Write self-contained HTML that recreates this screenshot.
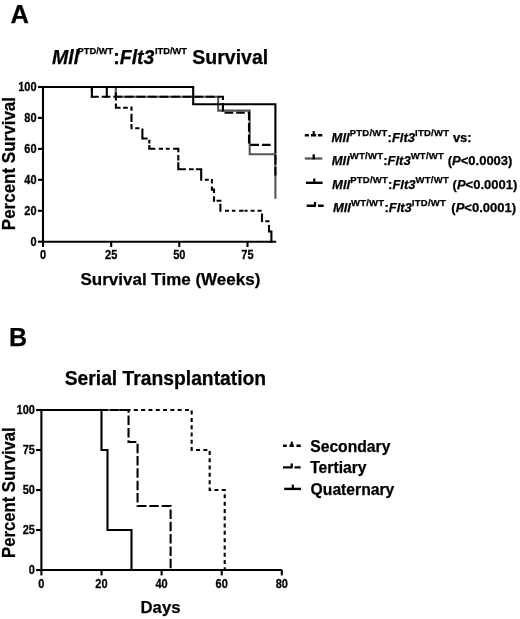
<!DOCTYPE html>
<html><head><meta charset="utf-8"><title>Survival figure</title>
<style>
html,body{margin:0;padding:0;background:#fff;}
body{width:520px;height:619px;overflow:hidden;}
svg{display:block;}
text{font-family:'Liberation Sans', Arial, Helvetica, sans-serif;font-weight:bold;fill:#000;stroke:#000;stroke-width:0.25px;}
.it{font-style:italic;}
</style></head><body>
<svg width="520" height="619" viewBox="0 0 520 619">
<rect width="520" height="619" fill="#fff"/>

<text x="10.4" y="22.8" font-size="25.5">A</text>
<text x="9.0" y="345.7" font-size="25">B</text>
<text x="52" y="64.3" font-size="19.5"><tspan class="it">Mll</tspan><tspan font-size="9.3" dy="-10.3" dx="-1.5">PTD/WT</tspan><tspan dy="10.3">:</tspan><tspan class="it">Flt3</tspan><tspan font-size="9.3" dy="-10.3" dx="0.5">ITD/WT</tspan><tspan dy="10.3"> Survival</tspan></text>
<text transform="translate(15.2,163.6) rotate(-90) scale(0.945,1)" text-anchor="middle" font-size="18">Percent Survival</text>
<g stroke="#000" stroke-width="2.1" fill="none" stroke-linecap="butt">
<path d="M43.0,86.5 V242.7"/>
<path d="M42.0,241.7 H276.2"/>
<path d="M38,241.7 H43.0"/>
<path d="M38,210.8 H43.0"/>
<path d="M38,179.8 H43.0"/>
<path d="M38,148.9 H43.0"/>
<path d="M38,117.9 H43.0"/>
<path d="M38,87.0 H43.0"/>
<path d="M43.0,241.7 V247"/>
<path d="M111.2,241.7 V247"/>
<path d="M179.3,241.7 V247"/>
<path d="M247.5,241.7 V247"/>
</g>
<text transform="translate(36.6,246.0) scale(0.92,1)" font-size="12" text-anchor="end">0</text>
<text transform="translate(36.6,215.1) scale(0.92,1)" font-size="12" text-anchor="end">20</text>
<text transform="translate(36.6,184.1) scale(0.92,1)" font-size="12" text-anchor="end">40</text>
<text transform="translate(36.6,153.2) scale(0.92,1)" font-size="12" text-anchor="end">60</text>
<text transform="translate(36.6,122.2) scale(0.92,1)" font-size="12" text-anchor="end">80</text>
<text transform="translate(36.6,91.3) scale(0.92,1)" font-size="12" text-anchor="end">100</text>
<text transform="translate(43.0,258.9) scale(0.92,1)" font-size="12" text-anchor="middle">0</text>
<text transform="translate(111.2,258.9) scale(0.92,1)" font-size="12" text-anchor="middle">25</text>
<text transform="translate(179.3,258.9) scale(0.92,1)" font-size="12" text-anchor="middle">50</text>
<text transform="translate(247.5,258.9) scale(0.92,1)" font-size="12" text-anchor="middle">75</text>
<text x="170.4" y="285.1" font-size="17" text-anchor="middle">Survival Time (Weeks)</text>
<g fill="none" stroke-linejoin="miter" stroke-linecap="butt">
<path d="M43.0,87.0 H115.8 V96.7 H218.2 V110.6 H249.7 V154.3 H275.4 V198.8" stroke="#555" stroke-width="2.1"/>
<path d="M43.0,87.0 H193.2 V104.2 H275.4 V153.5" stroke="#000" stroke-width="2.1"/>
<path d="M43.00,87.00L91.90,87.00L91.90,96.70L222.90,96.70L222.90,112.80L249.00,112.80L249.00,144.90L271.60,144.90" stroke="#000" stroke-width="2.1" stroke-dasharray="8.7 2.88" stroke-dashoffset="1.08"/>
<path d="M275.4,155V164.4M275.4,166.9V175.6" stroke="#000" stroke-width="2.1"/>
<path d="M106.8,86.5V97.7M115.9,92.5V100.5M115.9,103.6V108.7M131.5,106.5V110.8M131.5,113.7V122.0M131.5,124.0V129.2M142.4,128.5V139.5M149.3,139.8V143.4M149.3,145.0V149.8M178.3,147.7V152.3M178.3,155.0V160.4M178.3,162.3V170.3M201.2,168.2V180.7M211.9,179.0V183.4M211.9,186.6V190.6M214.0,188.6V193.1M214.0,196.3V201.7M220.4,203.7V211.7M262.0,213.4V222.1M269.0,225.0V232.5M271.4,230.5V242.7M115.0,107.7H120.5M123.1,107.7H127.8M135.2,128.2H139.4M141.4,138.5H147.6M148.2,148.8H155.4M158.8,148.8H163.1M165.8,148.8H169.6M173.1,148.8H179.3M177.3,169.3H185.9M189.0,169.3H193.6M195.9,169.3H202.2M204.8,179.7H208.8M210.9,189.6H215.0M216.6,200.7H221.4M225.0,210.7H229.0M231.9,210.7H235.4M239.1,210.7H243.6M244.6,210.7H247.6M250.6,210.7H254.6M257.5,210.7H261.7M265.3,221.2H269.5M268.0,231.5H272.4" stroke="#000" stroke-width="2.1"/>
<path d="M91.9,87V97.7" stroke="#000" stroke-width="2.1"/>
</g>
<text x="331.6" y="141.7" font-size="13"><tspan class="it">Mll</tspan><tspan font-size="9.5" dy="-5.8" letter-spacing="0.25">PTD/WT</tspan><tspan dy="5.8">:</tspan><tspan class="it">Flt3</tspan><tspan font-size="9.5" dy="-5.8" letter-spacing="0.25">ITD/WT</tspan><tspan dy="5.8" dx="0"> vs:</tspan></text>
<text x="331.7" y="164.8" font-size="13"><tspan class="it">Mll</tspan><tspan font-size="9.5" dy="-5.8" letter-spacing="0.25">WT/WT</tspan><tspan dy="5.8">:</tspan><tspan class="it">Flt3</tspan><tspan font-size="9.5" dy="-5.8" letter-spacing="0.25">WT/WT</tspan><tspan dy="5.8" dx="0"> (</tspan><tspan class="it">P</tspan><0.0003)</text>
<text x="332.1" y="188.9" font-size="13"><tspan class="it">Mll</tspan><tspan font-size="9.5" dy="-5.8" letter-spacing="0.25">PTD/WT</tspan><tspan dy="5.8">:</tspan><tspan class="it">Flt3</tspan><tspan font-size="9.5" dy="-5.8" letter-spacing="0.25">WT/WT</tspan><tspan dy="5.8" dx="0"> (</tspan><tspan class="it">P</tspan><0.0001)</text>
<text x="332.9" y="212.2" font-size="13"><tspan class="it">Mll</tspan><tspan font-size="9.5" dy="-5.8" letter-spacing="0.25">WT/WT</tspan><tspan dy="5.8">:</tspan><tspan class="it">Flt3</tspan><tspan font-size="9.5" dy="-5.8" letter-spacing="0.25">ITD/WT</tspan><tspan dy="5.8" dx="1.6"> (</tspan><tspan class="it">P</tspan><0.0001)</text>
<g fill="none" stroke-linecap="butt">
<path d="M304.8,135.3 H308.9 M311,135.3 H316.2 M318,135.3 H322.3" stroke="#000" stroke-width="2.4"/>
<path d="M313.7,131.1 V135.8" stroke="#000" stroke-width="2.2"/>
<path d="M304.8,158.5 H322.3" stroke="#555" stroke-width="2.3"/>
<path d="M313.7,154.3 V159.4" stroke="#000" stroke-width="2.3"/>
<path d="M305.9,182.8 H322.6" stroke="#000" stroke-width="2.4"/>
<path d="M314.3,178.5 V183" stroke="#000" stroke-width="2.2"/>
<path d="M306.7,205.8 H315.9 M318,205.8 H323.7" stroke="#000" stroke-width="2.4"/>
<path d="M315,202 V206" stroke="#000" stroke-width="2.2"/>
</g>
<text x="64.7" y="385.3" font-size="19.3">Serial Transplantation</text>
<text transform="translate(15.3,492.6) rotate(-90) scale(0.948,1)" text-anchor="middle" font-size="17.6">Percent Survival</text>
<g stroke="#000" stroke-width="2.1" fill="none">
<path d="M41.4,409.5 V571.0"/>
<path d="M40.4,570.0 H282.1"/>
<path d="M36.1,570.0 H41.4"/>
<path d="M36.1,530.0 H41.4"/>
<path d="M36.1,490.0 H41.4"/>
<path d="M36.1,450.0 H41.4"/>
<path d="M36.1,410.0 H41.4"/>
<path d="M41.4,570.0 V575.4"/>
<path d="M101.5,570.0 V575.4"/>
<path d="M161.6,570.0 V575.4"/>
<path d="M221.7,570.0 V575.4"/>
<path d="M281.8,570.0 V575.4"/>
</g>
<text transform="translate(34.9,574.0) scale(0.92,1)" font-size="12" text-anchor="end">0</text>
<text transform="translate(34.9,534.0) scale(0.92,1)" font-size="12" text-anchor="end">25</text>
<text transform="translate(34.9,494.0) scale(0.92,1)" font-size="12" text-anchor="end">50</text>
<text transform="translate(34.9,454.0) scale(0.92,1)" font-size="12" text-anchor="end">75</text>
<text transform="translate(34.9,414.0) scale(0.92,1)" font-size="12" text-anchor="end">100</text>
<text transform="translate(41.4,587.6) scale(0.92,1)" font-size="12" text-anchor="middle">0</text>
<text transform="translate(101.5,587.6) scale(0.92,1)" font-size="12" text-anchor="middle">20</text>
<text transform="translate(161.6,587.6) scale(0.92,1)" font-size="12" text-anchor="middle">40</text>
<text transform="translate(221.7,587.6) scale(0.92,1)" font-size="12" text-anchor="middle">60</text>
<text transform="translate(281.8,587.6) scale(0.92,1)" font-size="12" text-anchor="middle">80</text>
<text x="160.5" y="613.1" font-size="16.7" text-anchor="middle">Days</text>
<g fill="none" stroke="#000" stroke-width="2.1" stroke-linecap="butt">
<path d="M41.4,410.0 H101.5 V450.0 H107.5 V530.0 H131.5 V570.0"/>
<path d="M41.40,410.00L128.54,410.00L128.54,442.00L137.56,442.00L137.56,506.00L170.62,506.00L170.62,570.00" stroke-dasharray="9.5 2.85" stroke-dashoffset="6.05"/>
<path d="M41.40,410.00L191.65,410.00L191.65,450.00L209.68,450.00L209.68,490.00L224.71,490.00L224.71,570.00" stroke-dasharray="4 3.3" stroke-dashoffset="2.45"/>
</g>
<text x="310.2" y="452" font-size="15.7">Secondary</text>
<text x="310.2" y="473.3" font-size="15.7">Tertiary</text>
<text x="310.6" y="494.9" font-size="15.7">Quaternary</text>
<g fill="none" stroke="#000" stroke-width="2">
<path d="M283,445.8 H286.8 M289.5,445.8 H293.8 M296.5,445.8 H300.8" stroke-width="2.4"/>
<path d="M291.8,441.6 V446.5" stroke-width="2.2"/>
<path d="M283,467.4 H292.6 M294.5,467.4 H300.6" stroke-width="2.4"/>
<path d="M291.7,463.4 V467.5" stroke-width="2.2"/>
<path d="M284.2,488.9 H301" stroke-width="2.4"/>
<path d="M292.8,484.6 V489" stroke-width="2.2"/>
</g>
</svg></body></html>
